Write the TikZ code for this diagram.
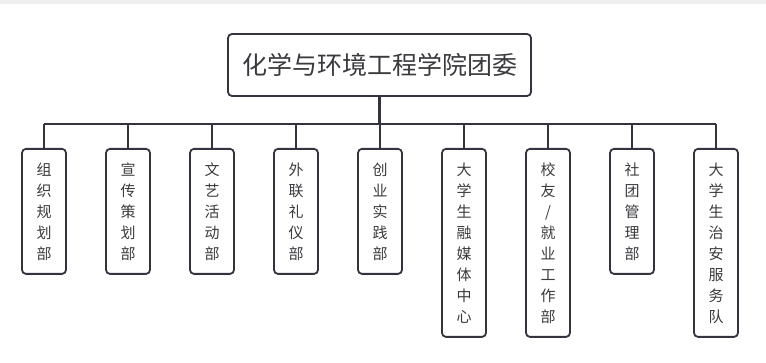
\documentclass[tikz,border=0pt]{standalone}
\usepackage{fontspec}
\setmainfont{Noto Sans CJK SC}
\usepackage{tikz}
\usetikzlibrary{positioning}
\definecolor{inkline}{RGB}{52,52,64}
\definecolor{inktext}{RGB}{58,58,62}
\definecolor{topband}{RGB}{239,239,239}

\begin{document}
\begin{tikzpicture}[
  x=1pt, y=-1pt,
  every node/.style={draw=inkline,line width=1.8pt,rounded corners=4pt,text=inktext,align=center,inner sep=0pt},
  head/.style={minimum width=303pt,minimum height=62pt,font=\fontsize{25pt}{30pt}\selectfont},
  dept/.style={anchor=north,minimum width=44pt,minimum height=125pt,font=\fontsize{15pt}{21pt}\selectfont},
  tall/.style={dept,minimum height=188pt},
  trunk/.style={draw=inkline,line width=2.6pt},
  link/.style={draw=inkline,line width=1.5pt}
]
\useasboundingbox (0,0) rectangle (766,363);
\fill[topband] (0,0) rectangle (766,4);
\node[head] (root) at (379.5,65) {化学与环境工程学院团委};
\coordinate (bar) at (379.5,124);
\node[dept] (c1) at (44,148) {组\\织\\规\\划\\部};
\node[dept] (c2) at (128,148) {宣\\传\\策\\划\\部};
\node[dept] (c3) at (212,148) {文\\艺\\活\\动\\部};
\node[dept] (c4) at (296,148) {外\\联\\礼\\仪\\部};
\node[dept] (c5) at (380,148) {创\\业\\实\\践\\部};
\node[tall] (c6) at (464,148) {大\\学\\生\\融\\媒\\体\\中\\心};
\node[tall] (c7) at (548,148) {校\\友\\/\\就\\业\\工\\作\\部};
\node[dept] (c8) at (632,148) {社\\团\\管\\理\\部};
\node[tall] (c9) at (716,148) {大\\学\\生\\治\\安\\服\\务\\队};
% connectors
\draw[trunk] (root.south) -- (root.south |- bar);
\draw[trunk,line width=2pt] (c1.north |- bar) -- (c9.north |- bar);
\draw[link] (c1.north) -- (c1.north |- bar);
\draw[link] (c2.north) -- (c2.north |- bar);
\draw[link] (c3.north) -- (c3.north |- bar);
\draw[link] (c4.north) -- (c4.north |- bar);
\draw[link] (c5.north) -- (c5.north |- bar);
\draw[link] (c6.north) -- (c6.north |- bar);
\draw[link] (c7.north) -- (c7.north |- bar);
\draw[link] (c8.north) -- (c8.north |- bar);
\draw[link] (c9.north) -- (c9.north |- bar);
\end{tikzpicture}
\end{document}
